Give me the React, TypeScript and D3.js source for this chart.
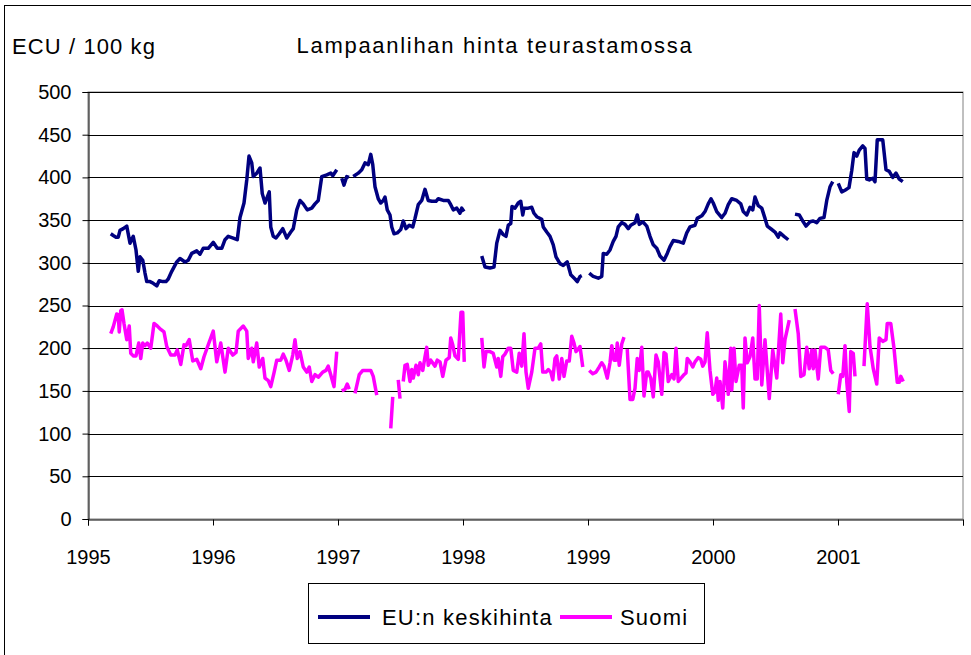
import React, { useEffect, useRef } from "react";
import * as d3 from "d3";

// Lampaanlihan hinta teurastamossa, ECU / 100 kg, viikoittain
// [vuosi desimaalina, hinta]; null = puuttuva viikko (katko viivassa)
type Pt = [number, number | null];

const euHinta: Pt[] = [
  [1995.182, 334], [1995.202, 332], [1995.224, 330], [1995.242, 330], [1995.256, 338],
  [1995.282, 340], [1995.31, 343], [1995.336, 323], [1995.362, 331], [1995.384, 315],
  [1995.402, 290], [1995.416, 307], [1995.438, 303], [1995.456, 288], [1995.47, 278],
  [1995.496, 278], [1995.522, 276], [1995.55, 273], [1995.57, 279], [1995.598, 278],
  [1995.624, 278], [1995.642, 281], [1995.67, 290], [1995.71, 301], [1995.736, 305],
  [1995.776, 301], [1995.802, 303], [1995.83, 311], [1995.87, 314], [1995.896, 310],
  [1995.922, 317], [1995.962, 317], [1996.002, 324], [1996.034, 317], [1996.07, 317],
  [1996.096, 327], [1996.122, 331], [1996.162, 329], [1996.194, 327], [1996.216, 353],
  [1996.248, 370], [1996.27, 397], [1996.288, 425], [1996.31, 417], [1996.322, 401],
  [1996.35, 405], [1996.376, 411], [1996.394, 381], [1996.416, 370], [1996.434, 377],
  [1996.45, 383], [1996.462, 342], [1996.482, 331], [1996.504, 329], [1996.53, 334],
  [1996.558, 340], [1996.59, 329], [1996.622, 336], [1996.642, 340], [1996.67, 362],
  [1996.696, 373], [1996.722, 369], [1996.754, 362], [1996.79, 364], [1996.816, 369],
  [1996.842, 373], [1996.87, 401], [1996.91, 403], [1996.942, 405], [1996.958, 402],
  [1996.99, 409], [1997.01, null],
  [1997.03, 399], [1997.048, 391], [1997.07, 401], [1997.088, 400], [1997.1, null],
  [1997.122, 401], [1997.162, 405], [1997.19, 409], [1997.216, 417], [1997.242, 415],
  [1997.262, 427], [1997.278, 415], [1997.296, 389], [1997.322, 375], [1997.342, 370],
  [1997.362, 373], [1997.376, 377], [1997.394, 362], [1997.416, 356], [1997.43, 342],
  [1997.448, 334], [1997.474, 335], [1997.502, 339], [1997.522, 349], [1997.544, 340],
  [1997.57, 344], [1997.598, 342], [1997.616, 352], [1997.642, 368], [1997.67, 373],
  [1997.696, 386], [1997.722, 373], [1997.75, 372], [1997.784, 372], [1997.802, 375],
  [1997.842, 373], [1997.882, 373], [1997.902, 368], [1997.922, 362], [1997.95, 364],
  [1997.976, 358], [1997.99, 364], [1998.008, 360], [1998.05, null],
  [1998.15, 308], [1998.176, 295], [1998.216, 294], [1998.248, 295], [1998.27, 323],
  [1998.296, 338], [1998.322, 333], [1998.344, 331], [1998.362, 344], [1998.382, 346],
  [1998.392, 366], [1998.416, 364], [1998.442, 370], [1998.462, 372], [1998.478, 356],
  [1998.488, 364], [1998.522, 364], [1998.55, 365], [1998.568, 358], [1998.59, 354],
  [1998.63, 351], [1998.642, 342], [1998.67, 336], [1998.696, 331], [1998.722, 321],
  [1998.744, 307], [1998.776, 299], [1998.802, 297], [1998.834, 301], [1998.862, 286],
  [1998.896, 281], [1998.914, 278], [1998.936, 284], [1998.95, 285], [1998.98, null],
  [1999.01, 288], [1999.042, 284], [1999.082, 282], [1999.11, 284], [1999.122, 311],
  [1999.15, 310], [1999.176, 315], [1999.202, 325], [1999.224, 331], [1999.242, 342],
  [1999.27, 347], [1999.296, 345], [1999.322, 340], [1999.342, 344], [1999.376, 347],
  [1999.394, 356], [1999.41, 345], [1999.438, 348], [1999.47, 343], [1999.496, 331],
  [1999.522, 321], [1999.55, 317], [1999.576, 308], [1999.608, 303], [1999.634, 311],
  [1999.656, 319], [1999.682, 326], [1999.722, 325], [1999.762, 323], [1999.79, 335],
  [1999.816, 342], [1999.856, 344], [1999.874, 352], [1999.91, 355], [1999.936, 360],
  [1999.962, 369], [1999.984, 375], [2000.002, 370], [2000.03, 360], [2000.07, 353],
  [2000.096, 358], [2000.122, 368], [2000.15, 375], [2000.19, 373], [2000.222, 369],
  [2000.242, 360], [2000.27, 356], [2000.296, 365], [2000.318, 362], [2000.336, 377],
  [2000.362, 367], [2000.39, 364], [2000.416, 352], [2000.434, 343], [2000.47, 339],
  [2000.496, 336], [2000.522, 330], [2000.536, 335], [2000.568, 331], [2000.602, 327],
  [2000.63, null],
  [2000.656, 357], [2000.69, 356], [2000.722, 348], [2000.744, 343], [2000.776, 348],
  [2000.802, 349], [2000.83, 347], [2000.856, 352], [2000.888, 353], [2000.91, 373],
  [2000.936, 389], [2000.958, 395], [2000.98, null],
  [2001.002, 393], [2001.03, 383], [2001.056, 385], [2001.088, 388], [2001.11, 408],
  [2001.128, 429], [2001.15, 425], [2001.17, 432], [2001.198, 437], [2001.216, 434],
  [2001.23, 398], [2001.25, 397], [2001.278, 399], [2001.296, 395], [2001.314, 444],
  [2001.358, 444], [2001.384, 409], [2001.41, 407], [2001.438, 400], [2001.464, 405],
  [2001.49, 398], [2001.518, 395],
];

const suomiHinta: Pt[] = [
  [1995.182, 217], [1995.202, 225], [1995.23, 240], [1995.242, 239], [1995.25, 219],
  [1995.262, 244], [1995.272, 245], [1995.288, 229], [1995.31, 210], [1995.33, 226],
  [1995.342, 194], [1995.362, 191], [1995.384, 191], [1995.406, 206], [1995.422, 188],
  [1995.438, 206], [1995.456, 203], [1995.474, 206], [1995.502, 200], [1995.528, 229],
  [1995.554, 226], [1995.582, 222], [1995.608, 219], [1995.63, 202], [1995.662, 192],
  [1995.696, 192], [1995.714, 198], [1995.742, 181], [1995.768, 204], [1995.784, 203],
  [1995.81, 210], [1995.838, 185], [1995.87, 187], [1995.902, 176], [1995.928, 190],
  [1995.962, 204], [1996.002, 220], [1996.03, 184], [1996.062, 206], [1996.096, 172],
  [1996.122, 200], [1996.158, 192], [1996.184, 195], [1996.202, 220], [1996.242, 226],
  [1996.27, 220], [1996.282, 188], [1996.31, 200], [1996.322, 184], [1996.35, 206],
  [1996.37, 178], [1996.398, 188], [1996.416, 165], [1996.442, 162], [1996.462, 155],
  [1996.488, 171], [1996.51, 186], [1996.542, 186], [1996.562, 193], [1996.584, 186],
  [1996.61, 174], [1996.638, 192], [1996.656, 210], [1996.674, 188], [1996.696, 196],
  [1996.722, 178], [1996.75, 172], [1996.77, 178], [1996.79, 161], [1996.816, 169],
  [1996.842, 166], [1996.878, 172], [1996.904, 174], [1996.922, 179], [1996.942, 169],
  [1996.968, 155], [1996.99, 196], [1997.01, null],
  [1997.03, 150], [1997.056, 152], [1997.074, 158], [1997.09, 152], [1997.11, null],
  [1997.136, 147], [1997.17, 169], [1997.198, 174], [1997.23, 174], [1997.262, 174],
  [1997.282, 167], [1997.31, 145], [1997.36, null],
  [1997.422, 106], [1997.438, 143], [1997.46, null],
  [1997.482, 163], [1997.496, 141], [1997.51, null],
  [1997.522, 161], [1997.536, 180], [1997.554, 181], [1997.576, 161], [1997.59, 175],
  [1997.602, 165], [1997.624, 180], [1997.642, 169], [1997.656, 183], [1997.678, 174],
  [1997.696, 190], [1997.71, 201], [1997.722, 180], [1997.742, 186], [1997.776, 179],
  [1997.794, 186], [1997.816, 184], [1997.838, 167], [1997.864, 186], [1997.89, 189],
  [1997.902, 212], [1997.918, 204], [1997.936, 191], [1997.962, 187], [1997.984, 242],
  [1997.998, 242], [1998.01, 184], [1998.05, null],
  [1998.15, 212], [1998.168, 178], [1998.184, 196], [1998.216, 196], [1998.242, 194],
  [1998.27, 178], [1998.282, 188], [1998.302, 167], [1998.318, 190], [1998.336, 193],
  [1998.362, 200], [1998.382, 200], [1998.402, 174], [1998.43, 172], [1998.45, 194],
  [1998.47, 179], [1998.488, 217], [1998.504, 172], [1998.522, 153], [1998.55, 172],
  [1998.576, 200], [1998.602, 200], [1998.622, 205], [1998.638, 172], [1998.664, 172],
  [1998.682, 175], [1998.702, 172], [1998.718, 163], [1998.736, 188], [1998.75, 191],
  [1998.77, 164], [1998.79, 188], [1998.808, 167], [1998.83, 185], [1998.85, 185],
  [1998.87, 214], [1998.888, 206], [1998.904, 196], [1998.922, 199], [1998.936, 202],
  [1998.958, 178], [1998.98, null],
  [1999.01, 174], [1999.038, 170], [1999.064, 172], [1999.09, 178], [1999.11, 183],
  [1999.128, 179], [1999.154, 165], [1999.176, 183], [1999.19, 203], [1999.208, 186],
  [1999.224, 186], [1999.234, 206], [1999.25, 180], [1999.27, 205], [1999.288, 213],
  [1999.3, null],
  [1999.314, 199], [1999.336, 140], [1999.358, 140], [1999.376, 153], [1999.394, 188],
  [1999.41, 174], [1999.43, 201], [1999.448, 144], [1999.47, 172], [1999.482, 172],
  [1999.502, 165], [1999.522, 143], [1999.544, 192], [1999.562, 184], [1999.59, 146],
  [1999.608, 195], [1999.624, 193], [1999.642, 161], [1999.67, 169], [1999.688, 164],
  [1999.704, 200], [1999.722, 161], [1999.75, 166], [1999.768, 169], [1999.784, 171],
  [1999.794, 188], [1999.816, 184], [1999.838, 178], [1999.856, 184], [1999.882, 189],
  [1999.902, 187], [1999.918, 179], [1999.936, 184], [1999.954, 218], [1999.976, 174],
  [1999.998, 146], [2000.016, 149], [2000.03, 165], [2000.042, 139], [2000.056, 161],
  [2000.078, 130], [2000.096, 184], [2000.11, 167], [2000.122, 146], [2000.142, 200],
  [2000.15, 151], [2000.168, 200], [2000.184, 161], [2000.21, 180], [2000.23, 180],
  [2000.242, 130], [2000.256, 212], [2000.274, 183], [2000.296, 190], [2000.318, 212],
  [2000.336, 164], [2000.354, 164], [2000.37, 250], [2000.39, 157], [2000.416, 210],
  [2000.45, 141], [2000.478, 198], [2000.51, 165], [2000.542, 240], [2000.558, 183],
  [2000.576, 210], [2000.61, 233], [2000.63, null],
  [2000.656, 246], [2000.682, 217], [2000.702, 167], [2000.728, 169], [2000.75, 201],
  [2000.77, 176], [2000.79, 198], [2000.802, 176], [2000.816, 198], [2000.842, 164],
  [2000.862, 201], [2000.896, 201], [2000.922, 198], [2000.942, 174], [2000.962, 170],
  [2000.98, null],
  [2001.002, 146], [2001.022, 169], [2001.038, 167], [2001.056, 203], [2001.07, 161],
  [2001.09, 126], [2001.102, 196], [2001.122, 194], [2001.136, 167], [2001.17, null],
  [2001.208, 179], [2001.234, 252], [2001.256, 202], [2001.282, 176], [2001.31, 158],
  [2001.33, 212], [2001.358, 208], [2001.384, 210], [2001.394, 229], [2001.422, 229],
  [2001.448, 200], [2001.474, 160], [2001.49, 160], [2001.502, 167], [2001.522, 161],
];

const vuodet = [1995, 1996, 1997, 1998, 1999, 2000, 2001, 2002];
const vuosiNimet = ["1995", "1996", "1997", "1998", "1999", "2000", "2001"];
const hintaTicks = [0, 50, 100, 150, 200, 250, 300, 350, 400, 450, 500];
const sarjat = [
  { nimi: "EU:n keskihinta", data: euHinta, vari: "#000080" },
  { nimi: "Suomi", data: suomiHinta, vari: "#FF00FF" },
];

const W = 971;
const H = 655;
const FONT = "'Liberation Sans', Arial, sans-serif";

export default function App() {
  const ref = useRef<SVGSVGElement>(null);

  useEffect(() => {
    const svg = d3.select(ref.current);
    svg.selectAll("*").remove();

    const left = 88, right = 963, top = 92, bottom = 519;

    const x = d3.scaleLinear().domain([1995, 2002]).range([left, right]);
    const y = d3.scaleLinear().domain([0, 500]).range([bottom, top]);

    // chart area border
    svg.append("rect")
      .attr("x", 4.5).attr("y", 5.5)
      .attr("width", W + 20).attr("height", H + 20)
      .attr("fill", "white").attr("stroke", "black");

    // title + unit
    svg.append("text")
      .attr("x", 495).attr("y", 53)
      .attr("text-anchor", "middle")
      .style("font-family", FONT).style("font-size", "22px")
      .style("letter-spacing", "1.7px")
      .text("Lampaanlihan hinta teurastamossa");
    svg.append("text")
      .attr("x", 12).attr("y", 54)
      .style("font-family", FONT).style("font-size", "22px")
      .style("letter-spacing", "1.1px")
      .text("ECU / 100 kg");

    // plot area
    svg.append("rect")
      .attr("x", left).attr("y", top)
      .attr("width", right - left).attr("height", bottom - top)
      .attr("fill", "white").attr("stroke", "#808080");

    // gridlines
    svg.append("g")
      .selectAll("line")
      .data(hintaTicks.filter((d) => d > 0))
      .enter()
      .append("line")
      .attr("x1", left).attr("x2", right)
      .attr("y1", (d) => Math.round(y(d)) + 0.5)
      .attr("y2", (d) => Math.round(y(d)) + 0.5)
      .attr("stroke", "black");

    // y axis
    const gy = svg.append("g")
      .attr("transform", `translate(${left + 0.5},0)`)
      .call(d3.axisLeft(y).tickValues(hintaTicks).tickSize(6).tickPadding(11).tickFormat(d3.format("d")));
    gy.selectAll("text").style("font-family", FONT).style("font-size", "20px").attr("fill", "black");

    // x axis
    const gx = svg.append("g")
      .attr("transform", `translate(0,${bottom + 0.5})`)
      .call(
        d3.axisBottom(x)
          .tickValues(vuodet)
          .tickSize(6)
          .tickPadding(24)
          .tickFormat((d, i) => vuosiNimet[i] ?? "")
      );
    gx.selectAll("text").style("font-family", FONT).style("font-size", "20px").attr("fill", "black");
    gx.select(".domain").attr("stroke", "black");
    gy.select(".domain").attr("stroke", "black");

    // lines
    const line = d3.line<Pt>()
      .defined((d) => d[1] != null)
      .x((d) => x(d[0]))
      .y((d) => y(d[1] as number));

    sarjat.forEach((s) => {
      svg.append("path")
        .datum(s.data)
        .attr("d", line)
        .attr("fill", "none")
        .attr("stroke", s.vari)
        .attr("stroke-width", 3.5)
        .attr("stroke-linejoin", "round");
    });

    // legend
    const lg = svg.append("g");
    lg.append("rect")
      .attr("x", 308.5).attr("y", 583.5)
      .attr("width", 396).attr("height", 60)
      .attr("fill", "white").attr("stroke", "black");
    const lgX = [318, 560];
    const lgTextX = [382, 620];
    sarjat.forEach((s, i) => {
      lg.append("line")
        .attr("x1", lgX[i]).attr("x2", lgX[i] + 52)
        .attr("y1", 617).attr("y2", 617)
        .attr("stroke", s.vari).attr("stroke-width", 4);
      lg.append("text")
        .attr("x", lgTextX[i]).attr("y", 625)
        .style("font-family", FONT).style("font-size", "22px")
        .style("letter-spacing", "1.2px")
        .text(s.nimi);
    });
  }, []);

  return (
    <svg
      ref={ref}
      width={W}
      height={H}
      style={{ position: "absolute", left: 0, top: 0 }}
    />
  );
}
